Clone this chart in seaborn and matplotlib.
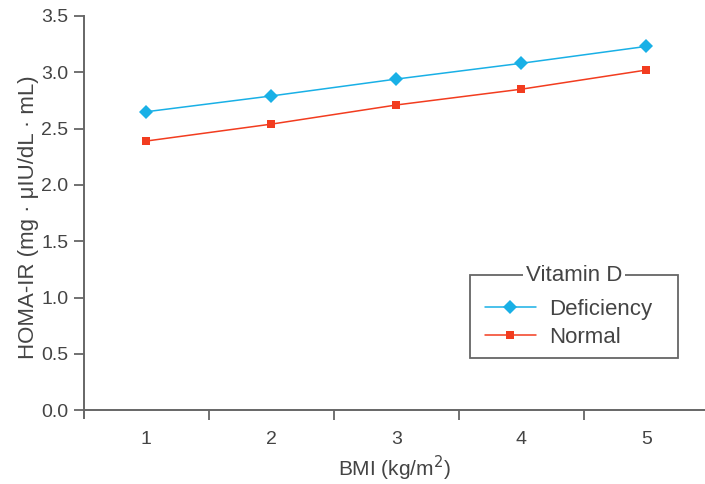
import numpy as np
import pandas as pd
import seaborn as sns
import matplotlib.pyplot as plt
from matplotlib.ticker import FixedLocator
from matplotlib.patches import Rectangle

# data
bmi = [1, 2, 3, 4, 5]
deficiency = [2.65, 2.79, 2.94, 3.08, 3.23]
normal = [2.39, 2.54, 2.71, 2.85, 3.02]

df = pd.DataFrame({
    'BMI': bmi * 2,
    'HOMA': deficiency + normal,
    'Vitamin D': ['Deficiency'] * 5 + ['Normal'] * 5,
})

sns.set_style('white')
plt.rcParams['font.family'] = ['Liberation Sans', 'DejaVu Sans']

grey = '#666666'
text_col = '#444444'
palette = {'Deficiency': '#19b0e6', 'Normal': '#f23c1f'}
msize = {'D': 7, 's': 6}

fig = plt.figure(figsize=(7.05, 4.84), dpi=100)
ax = fig.add_axes([0.119, 0.136, 0.881, 0.831])

sns.lineplot(data=df, x='BMI', y='HOMA', hue='Vitamin D', style='Vitamin D',
             markers={'Deficiency': 'D', 'Normal': 's'}, dashes=False,
             palette=palette, linewidth=1.1, markeredgewidth=0, ax=ax,
             legend=True)
for ln in ax.lines:
    m = ln.get_marker()
    if m in msize:
        ln.set_markersize(msize[m])

ax.set_xlim(0.5, 5.47)
ax.set_ylim(-0.07, 3.5)
ax.spines['bottom'].set_position(('data', 0))
ax.spines['left'].set_bounds(-0.07, 3.5)
for s in ['top', 'right']:
    ax.spines[s].set_visible(False)
for s in ['left', 'bottom']:
    ax.spines[s].set_color(grey)
    ax.spines[s].set_linewidth(1.4)

yt = np.arange(0, 3.51, 0.5)
ax.set_yticks(yt)
ax.set_yticklabels([f'{v:.1f}' for v in yt])
ax.set_xticks(bmi)
ax.xaxis.set_minor_locator(FixedLocator([1.5, 2.5, 3.5, 4.5]))
ax.tick_params(axis='y', length=7, width=1.3, color=grey, labelsize=14,
               labelcolor=text_col, pad=4, left=True)
ax.tick_params(axis='x', which='major', length=0, labelsize=14,
               labelcolor=text_col, pad=15)
ax.tick_params(axis='x', which='minor', length=7, width=1.3, color=grey,
               bottom=True, direction='out')

ax.set_xlabel('BMI (kg/m$^2$)', fontsize=15, color=text_col, labelpad=4)
ax.set_ylabel('HOMA-IR (mg · μIU/dL · mL)', fontsize=16, color=text_col, labelpad=2)

handles, labels = ax.get_legend_handles_labels()
for h in handles:
    m = h.get_marker()
    if m in msize:
        h.set_markersize(msize[m])
leg = ax.legend(handles, labels, loc='upper left', bbox_to_anchor=(0.6457, 0.296),
                frameon=False, fontsize=16, handlelength=2.3, borderpad=0,
                borderaxespad=0, labelspacing=0.3, handletextpad=0.6)
for t in leg.get_texts():
    t.set_color(text_col)

# box round the legend with the title sitting on its top edge
ax.add_patch(Rectangle((0.6216, 0.149), 0.335, 0.2065, transform=ax.transAxes,
                       fill=False, edgecolor=grey, linewidth=1.3, clip_on=False))
ax.text(0.789, 0.3555, 'Vitamin D', transform=ax.transAxes,
        ha='center', va='center', fontsize=16, color=text_col, zorder=10,
        bbox=dict(facecolor='white', edgecolor='none', pad=2))

fig.savefig('out.png', dpi=100)
